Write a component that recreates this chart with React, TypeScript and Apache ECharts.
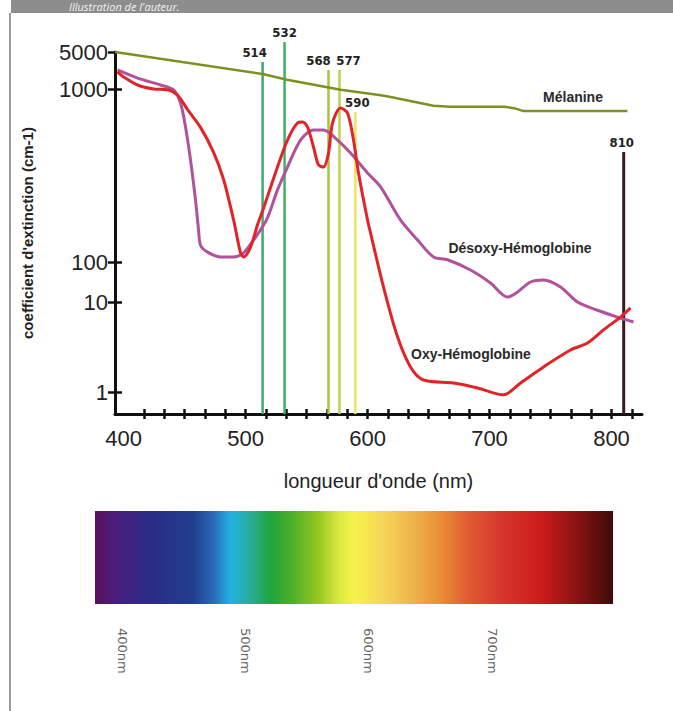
import React, { useEffect, useRef } from 'react';
import * as echarts from 'echarts';

// ---- data (wavelength in nm, extinction coefficient in cm-1) ----
const melaninNm = [393, 515, 534, 578, 611, 619, 643, 654, 668, 712, 720, 728, 813];
const melaninCoef = [5000, 1900, 1500, 990, 920, 900, 830, 800, 790, 790, 775, 745, 745];

const oxyNm = [395, 400, 411.5, 424.6, 436, 444.3, 452.5, 463.1, 473.8, 482, 490.2, 495.9, 498.4, 504.1, 509.8, 514.8, 526.2, 534.4, 542.6, 546.7, 550.8, 555.7, 559.8, 563.9, 568, 571.3, 577.9, 583.6, 588.5, 592.6, 600, 602.5, 613.1, 624.6, 635.2, 645.9, 670.5, 690.2, 711.5, 725.4, 744.3, 766.4, 780.3, 793.4, 807.4, 815.6];
const oxyCoef = [2100, 1690, 1190, 1000, 990, 920, 760, 600, 430, 300, 175, 113, 107, 122, 164, 205, 354, 507, 636, 644, 603, 462, 364, 354, 426, 636, 777, 726, 507, 327, 175, 147, 23.7, 4.1, 1.9, 1.36, 1.26, 1.11, 0.93, 1.26, 1.9, 2.93, 3.5, 4.9, 6.8, 8.6];

const desoxyNm = [395.1, 411.5, 430.3, 441, 446.7, 450.8, 454.9, 459, 461.5, 463.1, 468.9, 479.5, 490.2, 498.4, 506.6, 517.2, 526.2, 534.4, 545.1, 555.7, 563.9, 575.4, 586.1, 600, 610.7, 627, 641, 654.1, 665.6, 684.4, 700.8, 714.8, 723, 733.6, 744.3, 758.2, 772.1, 788.5, 804.9, 818];
const desoxyCoef = [2290, 1610, 1190, 987, 830, 603, 389, 228, 153, 125, 114, 107, 107, 113, 134, 175, 261, 354, 507, 579, 579, 507, 426, 327, 272, 175, 134, 107, 103, 63, 29.9, 13.3, 17.8, 31.6, 35.5, 23.7, 10, 8.1, 6.8, 6.0];

const laserNm = [514, 532, 568, 577, 590, 810];

const yTickValues = [1, 10, 100, 1000, 5000];
const xTickLabels = [400, 500, 600, 700, 800];
const spectrumLabels = [400, 500, 600, 700];

// ---- layout / style ----
const GRID_LEFT = 115;
const GRID_TOP = 52;
const GRID_W = 527;
const GRID_H = 362;
const GRID_BOTTOM = GRID_TOP + GRID_H;
const X_MIN = 393;
const X_MAX = 825;
// axis position (px above grid bottom) of each y tick: the original axis is irregular
const yTickPos = [22, 112, 152, 325, 362];

const laserColors = ['#3aab70', '#3db35e', '#a6c43c', '#bdd24c', '#f2e45a', '#3a1c1c'];
const laserTopY = [62, 42, 70, 70, 112, 152];
const laserShift = [-8, 0, -10, 9, 2, -2];

function T(v: number): number {
  const lv = Math.log10(v);
  const L = yTickValues.map((t) => Math.log10(t));
  let i = 0;
  if (lv <= L[0]) i = 0;
  else if (lv >= L[L.length - 1]) i = L.length - 2;
  else {
    for (let k = 0; k < L.length - 1; k++) {
      if (lv >= L[k] && lv <= L[k + 1]) { i = k; break; }
    }
  }
  const f = (lv - L[i]) / (L[i + 1] - L[i]);
  return yTickPos[i] + f * (yTickPos[i + 1] - yTickPos[i]);
}

const FONT = '"Liberation Sans", Arial, sans-serif';
const NARROW = '"Liberation Sans Narrow", "DejaVu Sans Condensed", Arial, sans-serif';

export default function App() {
  const ref = useRef<HTMLDivElement>(null);
  useEffect(() => {
    const chart = echarts.init(ref.current!, null, { renderer: 'svg' });
    const step = 100 / 6;
    const xTicks: number[] = [];
    for (let v = 400 + step; v <= 820; v += step) xTicks.push(v);

    const yLabel = (val: number) => {
      const i = yTickPos.findIndex((p) => Math.abs(p - val) < 0.5);
      return i >= 0 ? String(yTickValues[i]) : '';
    };

    const spectrumFill = new echarts.graphic.LinearGradient(0, 0, 1, 0, [
      { offset: 0, color: '#5c0f5e' },
      { offset: 0.04, color: '#4a1e7c' },
      { offset: 0.1, color: '#2c2a84' },
      { offset: 0.19, color: '#213f8e' },
      { offset: 0.23, color: '#2a6cb8' },
      { offset: 0.26, color: '#1fb2e2' },
      { offset: 0.3, color: '#2aad9a' },
      { offset: 0.34, color: '#1fa43a' },
      { offset: 0.38, color: '#4cb02a' },
      { offset: 0.43, color: '#94c620' },
      { offset: 0.47, color: '#d8e840' },
      { offset: 0.5, color: '#f8f24c' },
      { offset: 0.56, color: '#f6d458' },
      { offset: 0.62, color: '#eeb048' },
      { offset: 0.67, color: '#e88c34' },
      { offset: 0.72, color: '#e05c30' },
      { offset: 0.78, color: '#d8382e' },
      { offset: 0.86, color: '#cc1c1c' },
      { offset: 0.93, color: '#8a1212' },
      { offset: 1, color: '#3e0a0a' },
    ]);

    const annot = (text: string, x: number, y: number, size: number) => ({
      type: 'text',
      x,
      y,
      z: 20,
      style: {
        text,
        fill: '#2a2a2a',
        font: `bold ${size}px ${FONT}`,
        textAlign: 'center',
        textVerticalAlign: 'middle',
      },
    });

    chart.setOption({
      animation: false,
      backgroundColor: '#ffffff',
      grid: [
        { left: GRID_LEFT, top: GRID_TOP, width: GRID_W, height: GRID_H },
        { left: 95, top: 511, width: 518, height: 93 },
      ],
      xAxis: [
        {
          type: 'value',
          gridIndex: 0,
          min: X_MIN,
          max: X_MAX,
          position: 'bottom',
          axisLine: { show: true, lineStyle: { color: '#111', width: 3 } },
          axisTick: { show: true, customValues: xTicks, length: 5, lineStyle: { color: '#111', width: 2.5 } },
          axisLabel: {
            customValues: xTickLabels,
            fontSize: 22,
            color: '#222',
            fontFamily: FONT,
            margin: 13,
          },
          splitLine: { show: false },
          name: "longueur d'onde (nm)",
          nameLocation: 'middle',
          nameGap: 57,
          nameTextStyle: { fontSize: 20, color: '#222', fontFamily: FONT },
        },
        {
          type: 'value',
          gridIndex: 0,
          min: X_MIN,
          max: X_MAX,
          position: 'bottom',
          axisLine: { show: false },
          axisTick: { show: true, inside: true, customValues: xTicks, length: 5, lineStyle: { color: '#111', width: 2.5 } },
          axisLabel: { show: false },
          splitLine: { show: false },
        },
        {
          type: 'value',
          gridIndex: 1,
          min: 378,
          max: 798,
          position: 'bottom',
          axisLine: { show: false },
          axisTick: { show: false },
          axisLabel: {
            customValues: spectrumLabels,
            formatter: '{value}nm',
            rotate: -90,
            fontSize: 13,
            color: '#666',
            fontFamily: '"DejaVu Sans", sans-serif',
            margin: 24,
          },
          splitLine: { show: false },
        },
      ],
      yAxis: [
        {
          type: 'value',
          gridIndex: 0,
          min: 0,
          max: GRID_H,
          position: 'left',
          axisLine: { show: true, lineStyle: { color: '#111', width: 3 } },
          axisTick: { show: true, customValues: yTickPos, length: 7, lineStyle: { color: '#111', width: 2.5 } },
          axisLabel: {
            customValues: yTickPos,
            formatter: yLabel,
            fontSize: 22,
            color: '#222',
            fontFamily: FONT,
            margin: 7,
          },
          splitLine: { show: false },
          name: "coefficient d'extinction (cm-1)",
          nameLocation: 'middle',
          nameGap: 80,
          nameTextStyle: { fontSize: 15, fontWeight: 'bold', color: '#222', fontFamily: FONT },
        },
        {
          type: 'value',
          gridIndex: 0,
          min: 0,
          max: GRID_H,
          position: 'left',
          axisLine: { show: false },
          axisTick: { show: true, inside: true, customValues: yTickPos.slice(0, 4), length: 7, lineStyle: { color: '#111', width: 2.5 } },
          axisLabel: { show: false },
          splitLine: { show: false },
        },
        { type: 'value', gridIndex: 1, show: false, min: 0, max: 1 },
      ],
      series: [
        {
          name: 'lasers',
          type: 'custom',
          xAxisIndex: 0,
          yAxisIndex: 0,
          z: 1,
          clip: false,
          silent: true,
          encode: { x: 0, y: 1 },
          data: laserNm.map((nm) => [nm, 0]),
          renderItem: (params: any, api: any) => {
            const i = params.dataIndex;
            const nm = api.value(0);
            const bottom = api.coord([nm, 0]);
            const topY = laserTopY[i];
            return {
              type: 'group',
              children: [
                {
                  type: 'line',
                  shape: { x1: bottom[0], y1: topY, x2: bottom[0], y2: bottom[1] },
                  style: { stroke: laserColors[i], lineWidth: i === 5 ? 3 : 2.5 },
                },
                {
                  type: 'text',
                  x: bottom[0] + laserShift[i],
                  y: topY - 3,
                  style: {
                    text: String(laserNm[i]),
                    fill: '#222',
                    font: `bold 13px ${NARROW}`,
                    textAlign: 'center',
                    textVerticalAlign: 'bottom',
                  },
                },
              ],
            };
          },
        },
        {
          name: 'Mélanine',
          type: 'line',
          xAxisIndex: 0,
          yAxisIndex: 0,
          z: 3,
          symbol: 'none',
          data: melaninNm.map((x, i) => [x, T(melaninCoef[i])]),
          lineStyle: { color: '#808f24', width: 2.5 },
        },
        {
          name: 'Désoxy-Hémoglobine',
          type: 'line',
          xAxisIndex: 0,
          yAxisIndex: 0,
          z: 4,
          symbol: 'none',
          smooth: 0.3,
          data: desoxyNm.map((x, i) => [x, T(desoxyCoef[i])]),
          lineStyle: { color: '#b0529c', width: 3 },
        },
        {
          name: 'Oxy-Hémoglobine',
          type: 'line',
          xAxisIndex: 0,
          yAxisIndex: 0,
          z: 5,
          symbol: 'none',
          smooth: 0.3,
          data: oxyNm.map((x, i) => [x, T(oxyCoef[i])]),
          lineStyle: { color: '#e02428', width: 3 },
        },
      ],
      graphic: [
        { type: 'rect', shape: { x: 11, y: 0, width: 662, height: 13 }, style: { fill: '#8d8d8d' }, z: 10 },
        { type: 'rect', shape: { x: 9, y: 13, width: 2, height: 698 }, style: { fill: '#9a9a9a' }, z: 10 },
        {
          type: 'text',
          x: 69,
          y: 12,
          z: 11,
          style: {
            text: "Illustration de l'auteur.",
            fill: '#f2f2f2',
            font: `italic 11px "Open Sans", ${FONT}`,
            textVerticalAlign: 'bottom',
          },
        },
        { type: 'rect', shape: { x: 95, y: 511, width: 518, height: 93 }, style: { fill: spectrumFill }, z: 0 },
        annot('Mélanine', 573, 97, 14),
        annot('Désoxy-Hémoglobine', 520, 248, 14),
        annot('Oxy-Hémoglobine', 471, 354, 14),
      ],
    });
    return () => chart.dispose();
  }, []);
  return (
    <div
      ref={ref}
      style={{ position: 'fixed', left: 0, top: 0, width: 673, height: 711, background: '#fff' }}
    />
  );
}
